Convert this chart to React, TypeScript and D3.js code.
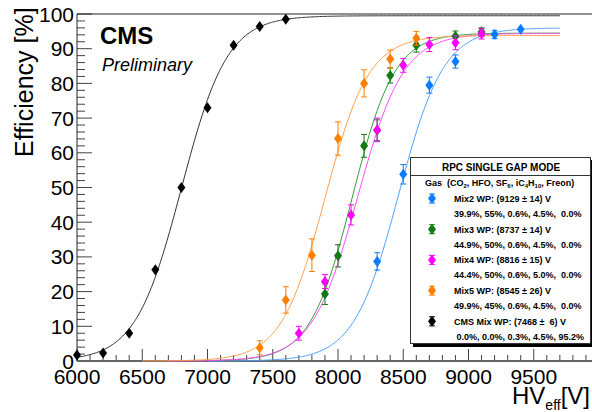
import React, { useEffect, useRef } from "react";
import * as d3 from "d3";

// efficiency scan points
const hvCms = [6000, 6200, 6400, 6600, 6800, 7000, 7200, 7400, 7600];
const effCms = [1.7, 2.3, 8.0, 26.3, 50.0, 73.0, 91.0, 96.4, 98.5];
const errCms = [0.4, 0.4, 0.5, 0.6, 0.6, 0.6, 0.5, 0.4, 0.3];

const hvMix2 = [8300, 8500, 8700, 8900, 9200, 9400];
const effMix2 = [28.7, 53.8, 79.5, 86.3, 94.1, 95.6];
const errMix2 = [2.5, 2.8, 2.3, 1.9, 1.2, 1.0];

const hvMix3 = [7900, 8000, 8200, 8300, 8400, 8600, 8900, 9100];
const effMix3 = [19.3, 30.3, 62.0, 66.5, 82.3, 91.0, 93.6, 94.8];
const errMix3 = [3.0, 3.2, 3.3, 3.0, 2.2, 2.0, 1.5, 1.2];

const hvMix4 = [7700, 7900, 8100, 8300, 8500, 8700, 8900, 9100];
const effMix4 = [8.0, 22.9, 42.1, 66.6, 85.2, 91.2, 91.7, 94.3];
const errMix4 = [2.0, 2.0, 2.9, 3.4, 2.0, 2.0, 2.0, 1.5];

const hvMix5 = [7400, 7600, 7800, 8000, 8200, 8400, 8600];
const effMix5 = [3.8, 17.6, 30.5, 64.1, 80.0, 87.0, 93.0];
const errMix5 = [2.0, 3.8, 4.7, 4.8, 3.9, 2.6, 2.0];

// sigmoid fit parameters: [plateau, HV50, slope, first HV]
const fitCms = [99.5, 6800, 0.00568, 6000];
const fitMix2 = [96.0, 8465, 0.0058, 7000];
const fitMix3 = [94.5, 8110, 0.00617, 6900];
const fitMix4 = [94.4, 8150, 0.0057, 6700];
const fitMix5 = [93.8, 7900, 0.00595, 6500];
const fitEnd = 9700;

const xTicks = [6000, 6500, 7000, 7500, 8000, 8500, 9000, 9500];
const yTicks = [0, 10, 20, 30, 40, 50, 60, 70, 80, 90, 100];

const legendTitle = "RPC SINGLE GAP MODE";
const legendWP = ["Mix2 WP: (9129 \u00b1 14) V", "Mix3 WP: (8737 \u00b1 14) V", "Mix4 WP: (8816 \u00b1 15) V", "Mix5 WP: (8545 \u00b1 26) V", "CMS Mix WP: (7468 \u00b1  6) V"];
const legendGas = ["39.9%, 55%, 0.6%, 4.5%,  0.0%", "44.9%, 50%, 0.6%, 4.5%,  0.0%", "44.4%, 50%, 0.6%, 5.0%,  0.0%", "49.9%, 45%, 0.6%, 4.5%,  0.0%", " 0.0%, 0.0%, 0.3%, 4.5%, 95.2%"];

const App = () => {
  const svgRef = useRef(null);

  useEffect(() => {
    const svg = d3.select(svgRef.current);
    svg.selectAll("*").remove();

    const width = 592;
    const height = 412;
    const font = "Liberation Sans, Arial, Helvetica, sans-serif";

    const x = d3.scaleLinear().domain([6000, 10000]).range([77, 599]);
    const y = d3.scaleLinear().domain([0, 100]).range([361, 14]);

    const series = [
      { hv: hvMix2, eff: effMix2, err: errMix2, fit: fitMix2, color: "#0a7cff", fitColor: "#4fa2ff" },
      { hv: hvMix3, eff: effMix3, err: errMix3, fit: fitMix3, color: "#127a12", fitColor: "#3a9a3a" },
      { hv: hvMix4, eff: effMix4, err: errMix4, fit: fitMix4, color: "#ff00ff", fitColor: "#ff4cff" },
      { hv: hvMix5, eff: effMix5, err: errMix5, fit: fitMix5, color: "#ff7f00", fitColor: "#ffa04a" },
      { hv: hvCms, eff: effCms, err: errCms, fit: fitCms, color: "#000000", fitColor: "#333333" },
    ];

    svg.append("rect").attr("width", width).attr("height", height).attr("fill", "#fff");

    svg.append("defs").append("clipPath").attr("id", "plotclip")
      .append("rect").attr("x", 77).attr("y", 13).attr("width", 522).attr("height", 349);

    // ticks
    const ax = svg.append("g").attr("stroke", "#444").attr("stroke-width", 1);
    d3.range(6000, 10001, 100).forEach((v) => {
      const major = v % 500 === 0;
      ax.append("line")
        .attr("x1", x(v)).attr("x2", x(v))
        .attr("y1", y(0)).attr("y2", y(0) - (major ? 12 : 6));
    });
    d3.range(0, 101, 2).forEach((v) => {
      const major = v % 10 === 0;
      ax.append("line")
        .attr("x1", x(6000)).attr("x2", x(6000) + (major ? 15 : 8))
        .attr("y1", y(v)).attr("y2", y(v));
    });

    // frame
    svg.append("line").attr("x1", 77).attr("x2", 592).attr("y1", y(100)).attr("y2", y(100))
      .attr("stroke", "#222").attr("stroke-width", 1);
    svg.append("line").attr("x1", 77).attr("x2", 77).attr("y1", y(100)).attr("y2", y(0))
      .attr("stroke", "#222").attr("stroke-width", 1);
    svg.append("line").attr("x1", 77).attr("x2", 592).attr("y1", y(0)).attr("y2", y(0))
      .attr("stroke", "#666").attr("stroke-width", 2);

    // tick labels
    svg.append("g").selectAll("text").data(xTicks).join("text")
      .attr("x", (d) => x(d)).attr("y", 384)
      .attr("text-anchor", "middle")
      .style("font-family", font).style("font-size", "21px")
      .text((d) => d);
    svg.append("g").selectAll("text").data(yTicks).join("text")
      .attr("x", 74).attr("y", (d) => y(d) + 7.5)
      .attr("text-anchor", "end")
      .style("font-family", font).style("font-size", "21px")
      .text((d) => d);

    // axis titles
    svg.append("text")
      .attr("transform", "translate(33,157) rotate(-90)")
      .style("font-family", font).style("font-size", "25px")
      .text("Efficiency [%]");
    const xt = svg.append("text")
      .attr("x", 590).attr("y", 404).attr("text-anchor", "end")
      .style("font-family", font).style("font-size", "24px");
    xt.append("tspan").text("HV");
    xt.append("tspan").attr("dy", 6).style("font-size", "14px").text("eff");
    xt.append("tspan").attr("dy", -6).text("[V]");

    svg.append("text").attr("x", 100).attr("y", 44)
      .style("font-family", font).style("font-size", "24px").style("font-weight", "bold")
      .text("CMS");
    svg.append("text").attr("x", 102).attr("y", 71)
      .style("font-family", font).style("font-size", "18px").style("font-style", "italic")
      .text("Preliminary");

    // fits
    const plot = svg.append("g").attr("clip-path", "url(#plotclip)");
    const line = d3.line().x((d) => x(d[0])).y((d) => y(d[1]));
    series.forEach((s) => {
      const [emax, hv50, lam, start] = s.fit;
      const pts = d3.range(start, fitEnd + 1, 10).map((v) => [v, emax / (1 + Math.exp(-lam * (v - hv50)))]);
      plot.append("path").datum(pts)
        .attr("fill", "none").attr("stroke", s.fitColor).attr("stroke-width", 1)
        .attr("d", line);
    });

    const diamond = "M0,-5.5L4,0L0,5.5L-4,0Z";
    const drawMarker = (g, cx, cy, e, color) => {
      if (e > 0) {
        g.append("line").attr("x1", cx).attr("x2", cx).attr("y1", cy - e).attr("y2", cy + e)
          .attr("stroke", color).attr("stroke-width", 1);
        g.append("line").attr("x1", cx - 3).attr("x2", cx + 3).attr("y1", cy - e).attr("y2", cy - e)
          .attr("stroke", color).attr("stroke-width", 1);
        g.append("line").attr("x1", cx - 3).attr("x2", cx + 3).attr("y1", cy + e).attr("y2", cy + e)
          .attr("stroke", color).attr("stroke-width", 1);
      }
      g.append("path").attr("d", diamond).attr("transform", `translate(${cx},${cy})`).attr("fill", color);
    };

    const pg = svg.append("g");
    series.forEach((s) => {
      s.hv.forEach((v, i) => {
        const e = s.err[i] > 1 ? y(0) - y(s.err[i]) : 0;
        drawMarker(pg, x(v), y(s.eff[i]), e, s.color);
      });
    });

    // legend
    const lg = svg.append("g");
    lg.append("rect").attr("x", 413).attr("y", 160).attr("width", 182).attr("height", 187).attr("fill", "#000");
    lg.append("rect").attr("x", 410.5).attr("y", 157.5).attr("width", 180).attr("height", 186)
      .attr("fill", "#fff").attr("stroke", "#333").attr("stroke-width", 1);
    lg.append("line").attr("x1", 410.5).attr("x2", 590.5).attr("y1", 175.5).attr("y2", 175.5)
      .attr("stroke", "#333").attr("stroke-width", 1);
    lg.append("text").attr("x", 501).attr("y", 171).attr("text-anchor", "middle")
      .style("font-family", font).style("font-size", "10px").style("font-weight", "bold")
      .text(legendTitle);

    const gas = lg.append("text").attr("x", 425).attr("y", 186)
      .style("font-family", font).style("font-size", "9px").style("font-weight", "bold")
      .attr("xml:space", "preserve");
    const sub = (t) => gas.append("tspan").attr("dy", 2).style("font-size", "6px").text(t);
    const norm = (t) => gas.append("tspan").attr("dy", -2).text(t);
    gas.append("tspan").text("Gas  (CO");
    sub("2"); norm(", HFO, SF"); sub("6"); norm(", iC"); sub("4");
    norm("H"); sub("10"); norm(", Freon)");

    series.forEach((s, i) => {
      const cy = 198.5 + i * 30.7;
      drawMarker(lg, 432, cy, 4.5, s.color);
      lg.append("text").attr("x", 454).attr("y", cy + 3.3)
        .style("font-family", font).style("font-size", "9px").style("font-weight", "bold")
        .style("white-space", "pre")
        .text(legendWP[i]);
      lg.append("text").attr("x", 454).attr("y", cy + 18.5)
        .style("font-family", font).style("font-size", "9px").style("font-weight", "bold")
        .style("white-space", "pre")
        .text(legendGas[i]);
    });
  }, []);

  return (
    <svg ref={svgRef} width={592} height={412} style={{ position: "absolute", left: 0, top: 0 }}></svg>
  );
};

export default App;
